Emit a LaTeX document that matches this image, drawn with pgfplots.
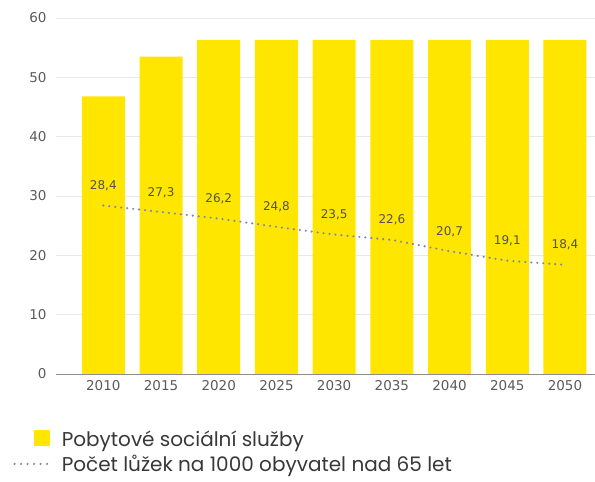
\documentclass[border=0pt]{standalone}
\usepackage{pgfplots}
\pgfplotsset{compat=1.18}
\usepackage{fontspec}
\setmainfont{Poppins}
\newfontfamily\tickfont{DejaVu Sans}
\definecolor{eyyellow}{HTML}{FFE600}
\definecolor{tickgrey}{HTML}{5A5A5A}
\definecolor{gridgrey}{HTML}{E8E8E8}
\definecolor{dotcol}{HTML}{7E88A8}
\begin{document}
\begin{tikzpicture}[x=1pt,y=1pt]
\useasboundingbox (0,0) rectangle (595,482);
\begin{axis}[
  at={(56pt,108pt)}, anchor=south west,
  scale only axis, width=539pt, height=356pt,
  xmin=-0.82, xmax=8.52, ymin=0, ymax=60,
  xtick={0,...,8},
  xticklabels={2010,2015,2020,2025,2030,2035,2040,2045,2050},
  ytick={0,10,...,60},
  ymajorgrids, grid style={gridgrey, line width=0.8pt},
  axis x line*=bottom, axis y line*=left,
  y axis line style={draw=none},
  x axis line style={draw=black!45, line width=0.8pt, -},
  major tick length=0pt,
  tick label style={font=\tickfont\fontsize{13.5}{15}\selectfont, text=tickgrey},
  /pgf/number format/assume math mode=true,
  xticklabel style={yshift=-3pt},
  yticklabel style={xshift=-6pt},
  legend style={at={(-0.085,-0.148)}, anchor=north west, draw=none, fill=none,
    font=\fontsize{20}{22}\selectfont, text=black!78, row sep=3pt,
    /tikz/every even column/.append style={column sep=0pt}},
  legend cell align=left,
]
\addplot[ybar, bar width=43pt, fill=eyyellow, draw=none,
  legend image code/.code={\fill[eyyellow] (20pt,-7pt) rectangle (36pt,9pt);}]
  coordinates {(0,46.8) (1,53.5) (2,56.3) (3,56.3) (4,56.3) (5,56.3) (6,56.3) (7,56.3) (8,56.3)};
\addlegendentry{\hspace{9pt}Pobytové sociální služby}
\addplot[dotcol, line width=2.4pt, line cap=round, dash pattern=on 0pt off 6pt,
  nodes near coords={\pgfmathprintnumber[use comma,fixed,fixed zerofill,precision=1]{\pgfplotspointmeta}},
  every node near coord/.append style={anchor=south, yshift=10pt, font=\tickfont\fontsize{12}{14}\selectfont, text=black!68},
  legend image code/.code={\draw[dotcol, line width=2.4pt, line cap=round, dash pattern=on 0pt off 6.5pt] (1pt,0pt) -- (36pt,0pt);}]
  coordinates {(0,28.4) (1,27.3) (2,26.2) (3,24.8) (4,23.5) (5,22.6) (6,20.7) (7,19.1) (8,18.4)};
\addlegendentry{\hspace{9pt}Počet lůžek na 1000 obyvatel nad 65 let}
\end{axis}
\end{tikzpicture}
\end{document}
